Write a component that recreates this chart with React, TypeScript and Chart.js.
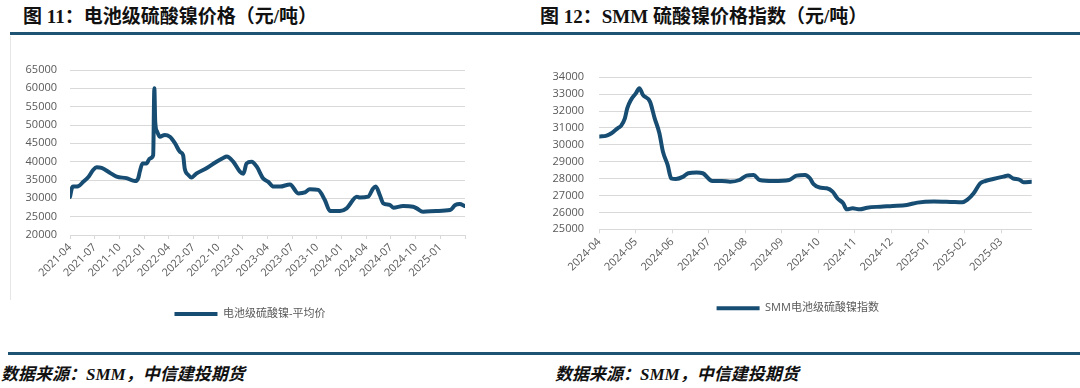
import React, { useEffect, useRef } from 'react';
import { Chart, registerables } from 'chart.js';

Chart.register(...registerables);

// ---------- Data: 图 11 电池级硫酸镍-平均价 ----------
const leftDates = [
  '2021-04-01', '2021-04-09', '2021-04-13', '2021-05-01', '2021-05-20', '2021-06-08', '2021-06-26',
  '2021-07-08', '2021-07-27', '2021-08-27', '2021-09-21', '2021-10-28', '2021-11-28', '2021-12-10',
  '2021-12-16', '2021-12-26', '2022-01-10', '2022-01-23', '2022-02-04', '2022-02-08', '2022-02-11',
  '2022-02-18', '2022-02-27', '2022-03-17', '2022-04-05', '2022-04-24', '2022-05-12', '2022-05-24',
  '2022-05-30', '2022-06-12', '2022-06-24', '2022-07-13', '2022-08-19', '2022-09-25', '2022-10-20',
  '2022-11-02', '2022-11-26', '2022-12-21', '2023-01-03', '2023-01-15', '2023-02-03', '2023-02-20',
  '2023-03-16', '2023-04-04', '2023-04-23', '2023-05-17', '2023-06-23', '2023-07-24', '2023-08-18',
  '2023-09-05', '2023-10-06', '2023-10-31', '2023-11-19', '2023-12-26', '2024-01-20', '2024-02-26',
  '2024-03-08', '2024-04-08', '2024-04-26', '2024-05-06', '2024-05-21', '2024-06-03', '2024-06-27',
  '2024-07-10', '2024-08-16', '2024-09-22', '2024-10-05', '2024-10-29', '2024-12-17', '2025-02-06',
  '2025-02-24', '2025-03-12', '2025-03-31',
];
const leftValues = [
  30400, 33000, 33200, 33300, 34500, 35800, 37800,
  38500, 38300, 37000, 35900, 35500, 34700, 35500,
  37300, 39500, 39500, 40900, 41800, 60000, 50800,
  48100, 46800, 47300, 46800, 45000, 42700, 41800,
  38200, 36400, 35700, 36800, 38200, 40000, 41000,
  41400, 40000, 37300, 36700, 39500, 40000, 38700,
  35400, 34500, 33200, 33200, 33800, 31350, 31600,
  32500, 32300, 29550, 26550, 26550, 27270, 30450,
  30200, 30450, 32700, 33200, 30900, 28640, 28200,
  27450, 27900, 27700, 27270, 26360, 26550, 26800,
  28180, 28450, 27900,
];
const leftTickLabels = [
  '2021-04', '2021-07', '2021-10', '2022-01', '2022-04', '2022-07', '2022-10', '2023-01',
  '2023-04', '2023-07', '2023-10', '2024-01', '2024-04', '2024-07', '2024-10', '2025-01', '2025-04',
];
const leftShownLabels = leftTickLabels.length - 1; // last tick has no label
const leftYMin = 20000;
const leftYMax = 65000;
const leftYStep = 5000;
const leftSeriesName = '电池级硫酸镍-平均价';

// ---------- Data: 图 12 SMM电池级硫酸镍指数 ----------
const rightDates = [
  '2024-04-01', '2024-04-07', '2024-04-11', '2024-04-16', '2024-04-19', '2024-04-22', '2024-04-24',
  '2024-04-27', '2024-05-01', '2024-05-04', '2024-05-07', '2024-05-13', '2024-05-17', '2024-05-21',
  '2024-05-24', '2024-05-28', '2024-05-31', '2024-06-04', '2024-06-10', '2024-06-14', '2024-06-21',
  '2024-06-26', '2024-07-02', '2024-07-04', '2024-07-12', '2024-07-19', '2024-07-27', '2024-08-02',
  '2024-08-08', '2024-08-13', '2024-08-25', '2024-09-07', '2024-09-13', '2024-09-20', '2024-09-24',
  '2024-09-27', '2024-10-02', '2024-10-08', '2024-10-13', '2024-10-17', '2024-10-22', '2024-10-25',
  '2024-10-30', '2024-11-05', '2024-11-11', '2024-11-22', '2024-12-02', '2024-12-14', '2024-12-23',
  '2025-01-06', '2025-01-20', '2025-01-30', '2025-02-03', '2025-02-08', '2025-02-13', '2025-02-17',
  '2025-02-23', '2025-03-03', '2025-03-07', '2025-03-11', '2025-03-17', '2025-03-20', '2025-03-27',
];
const rightValues = [
  30490, 30550, 30690, 30980, 31140, 31570, 32170,
  32660, 33050, 33350, 32960, 32560, 31570, 30690,
  29600, 28810, 28020, 27980, 28120, 28320, 28360,
  28320, 27920, 27860, 27860, 27820, 27920, 28180,
  28220, 27920, 27860, 27920, 28180, 28220, 28020,
  27670, 27470, 27430, 27230, 26840, 26540, 26180,
  26240, 26180, 26280, 26340, 26380, 26440, 26580,
  26640, 26620, 26600, 26740, 27130, 27720, 27860,
  27980, 28120, 28180, 28020, 27920, 27780, 27820,
];
const rightTickLabels = [
  '2024-04', '2024-05', '2024-06', '2024-07', '2024-08', '2024-09',
  '2024-10', '2024-11', '2024-12', '2025-01', '2025-02', '2025-03',
];
const rightYMin = 25000;
const rightYMax = 34000;
const rightYStep = 1000;
const rightSeriesName = 'SMM电池级硫酸镍指数';

// ---------- helpers ----------
function monthPos(date: string, base: string): number {
  const [y, m, d] = date.split('-').map(Number);
  const [by, bm] = base.split('-').map(Number);
  const dim = new Date(y, m, 0).getDate();
  return (y - by) * 12 + (m - bm) + ((d || 1) - 1) / dim;
}

const LINE_COLOR = '#174d72';
const GRID_COLOR = '#d9d9d9';
const TICK_COLOR = '#595959';
const TICK_FONT = '"Open Sans", "Noto Sans CJK SC", sans-serif';

type ChartProps = {
  left: number;
  top: number;
  width: number;
  height: number;
  dates: string[];
  values: number[];
  tickLabels: string[];
  shownLabels: number;
  xMax: number;
  yMin: number;
  yMax: number;
  yStep: number;
  name: string;
  padding: { left: number; right: number; top: number; bottom: number };
  yWidth: number;
  yPad: number;
  xHeight: number;
  rightSpace: number;
};

function LineChart(p: ChartProps) {
  const ref = useRef<HTMLCanvasElement>(null);
  useEffect(() => {
    const base = p.tickLabels[0];
    const points = p.dates.map((d, i) => ({ x: monthPos(d, base), y: p.values[i] }));
    const tickValues = p.tickLabels.map((t) => monthPos(t + '-01', base));
    const chart = new Chart(ref.current as HTMLCanvasElement, {
      type: 'line',
      data: {
        datasets: [
          {
            label: p.name,
            data: points,
            borderColor: LINE_COLOR,
            backgroundColor: LINE_COLOR,
            borderWidth: 4,
            pointRadius: 0,
            pointStyle: 'line',
            cubicInterpolationMode: 'monotone',
            borderJoinStyle: 'round',
            borderCapStyle: 'round',
          },
        ],
      },
      options: {
        responsive: false,
        animation: false,
        layout: { padding: p.padding },
        plugins: {
          tooltip: { enabled: false },
          legend: {
            position: 'bottom',
            labels: {
              usePointStyle: true,
              pointStyle: 'line',
              pointStyleWidth: 43,
              color: TICK_COLOR,
              font: { size: 11, family: TICK_FONT },
              padding: 10,
            },
          },
        },
        scales: {
          x: {
            type: 'linear',
            min: 0,
            max: p.xMax,
            afterBuildTicks: (scale: any) => {
              scale.ticks = tickValues.map((v) => ({ value: v }));
            },
            afterFit: (scale: any) => {
              scale.height = p.xHeight;
            },
            ticks: {
              autoSkip: false,
              minRotation: 45,
              maxRotation: 45,
              padding: 2,
              color: TICK_COLOR,
              font: { size: 11, family: TICK_FONT },
              callback: (_v: any, i: number) => (i < p.shownLabels ? p.tickLabels[i] : ''),
            },
            grid: {
              drawOnChartArea: false,
              drawTicks: true,
              tickLength: 4,
              color: GRID_COLOR,
            },
            border: { display: true, color: GRID_COLOR, width: 1 },
          },
          y: {
            min: p.yMin,
            max: p.yMax,
            afterFit: (scale: any) => {
              scale.width = p.yWidth;
            },
            ticks: {
              stepSize: p.yStep,
              padding: p.yPad,
              color: TICK_COLOR,
              font: { size: 11, family: TICK_FONT },
              callback: (v: any) => String(v),
            },
            grid: { color: GRID_COLOR, lineWidth: 1, drawTicks: false },
            border: { display: false },
          },
          // empty spacer on the right so the bottom legend sits where the original has it
          spacer: {
            position: 'right',
            display: true,
            ticks: { display: false },
            grid: { display: false, drawTicks: false },
            border: { display: false },
            afterFit: (scale: any) => {
              scale.width = p.rightSpace;
            },
          },
        },
      },
    } as any);
    return () => chart.destroy();
  }, []);
  return (
    <canvas
      ref={ref}
      width={p.width}
      height={p.height}
      style={{ position: 'absolute', left: p.left, top: p.top, width: p.width, height: p.height }}
    />
  );
}

const titleStyle: React.CSSProperties = {
  position: 'absolute',
  top: 7,
  lineHeight: '20px',
  fontSize: 19,
  fontWeight: 'bold',
  color: '#111',
  fontFamily: '"Liberation Serif", "Noto Sans CJK SC", serif',
  whiteSpace: 'nowrap',
};

const sourceStyle: React.CSSProperties = {
  position: 'absolute',
  top: 365,
  lineHeight: '20px',
  fontSize: 17,
  fontWeight: 'bold',
  fontStyle: 'italic',
  color: '#111',
  fontFamily: '"Liberation Serif", "Noto Sans CJK SC", serif',
  whiteSpace: 'nowrap',
};

export default function App() {
  const rightBase = rightTickLabels[0];
  const rightXMax = monthPos(rightDates[rightDates.length - 1], rightBase);
  const leftXMax = monthPos(leftTickLabels[leftTickLabels.length - 1] + '-01', leftTickLabels[0]);
  return (
    <div
      style={{
        position: 'absolute',
        left: 0,
        top: 0,
        width: 1080,
        height: 388,
        background: '#fff',
        overflow: 'hidden',
      }}
    >
      <div style={{ ...titleStyle, left: 23 }}>图 11：电池级硫酸镍价格（元/吨）</div>
      <div style={{ ...titleStyle, left: 540 }}>图 12：SMM 硫酸镍价格指数（元/吨）</div>
      <div style={{ position: 'absolute', left: 10, top: 32, width: 1070, height: 3, background: '#1f5373' }} />
      <div style={{ position: 'absolute', left: 10, top: 36, width: 1, height: 264, background: '#e6e6e6' }} />

      <LineChart
        left={0}
        top={36}
        width={540}
        height={300}
        dates={leftDates}
        values={leftValues}
        tickLabels={leftTickLabels}
        shownLabels={leftShownLabels}
        xMax={leftXMax}
        yMin={leftYMin}
        yMax={leftYMax}
        yStep={leftYStep}
        name={leftSeriesName}
        padding={{ left: 0, right: 40, top: 34, bottom: 6.5 }}
        yWidth={70}
        yPad={13}
        xHeight={63.5}
        rightSpace={35}
      />
      <LineChart
        left={540}
        top={36}
        width={540}
        height={300}
        dates={rightDates}
        values={rightValues}
        tickLabels={rightTickLabels}
        shownLabels={rightTickLabels.length}
        xMax={rightXMax}
        yMin={rightYMin}
        yMax={rightYMax}
        yStep={rightYStep}
        name={rightSeriesName}
        padding={{ left: 0, right: 24.5, top: 41.3, bottom: 12.2 }}
        yWidth={59.3}
        yPad={15.3}
        xHeight={63.5}
        rightSpace={23.8}
      />

      <div style={{ position: 'absolute', left: 8, top: 352, width: 1072, height: 3, background: '#1f5373' }} />
      <div style={{ ...sourceStyle, left: 1 }}>数据来源：SMM，中信建投期货</div>
      <div style={{ ...sourceStyle, left: 555 }}>数据来源：SMM，中信建投期货</div>
    </div>
  );
}
